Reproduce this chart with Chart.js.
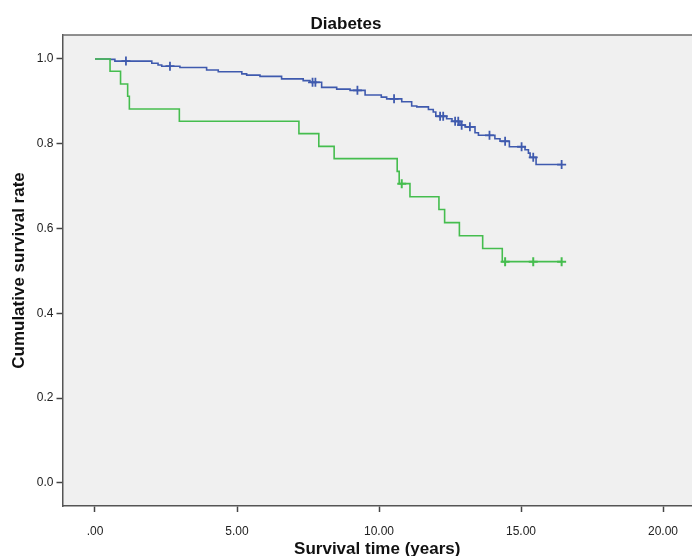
<!DOCTYPE html>
<html>
<head>
<meta charset="utf-8">
<title>Diabetes</title>
<script src="https://cdn.jsdelivr.net/npm/chart.js@4.4.1/dist/chart.umd.min.js"></script>
<style>
  html, body { margin: 0; padding: 0; background: #fff; }
  #wrap { width: 692px; height: 556px; }
</style>
</head>
<body>
<div id="wrap"><canvas id="myChart" width="692" height="556"></canvas></div>
<script>
/* global Chart */

// Kaplan-Meier steps: time (years) where the curve drops and survival after the drop
let greenTimes = [0, 0.53, 0.90, 1.15, 1.21, 2.97, 7.18, 7.88, 8.42, 10.64, 10.71, 11.09, 12.11, 12.31, 12.83, 13.65, 14.34, 16.43];
let greenSurv = [1.0, 0.971, 0.941, 0.912, 0.882, 0.853, 0.824, 0.794, 0.765, 0.735, 0.706, 0.675, 0.645, 0.614, 0.583, 0.553, 0.522, 0.522];
let greenCensorTimes = [10.80, 14.44, 15.43, 16.43];
let greenCensorSurv = [0.706, 0.522, 0.522, 0.522];

let blueTimes = [0, 0.53, 0.70, 2.00, 2.22, 2.35, 2.99, 3.93, 4.34, 5.17, 5.34, 5.81, 6.57, 7.33, 7.57, 7.98, 8.51, 8.98, 9.51, 10.08, 10.27, 10.80, 11.15, 11.33, 11.74, 11.91, 12.00, 12.38, 12.57, 12.85, 13.03, 13.38, 13.50, 14.08, 14.26, 14.59, 15.14, 15.26, 15.32, 15.53, 16.43];
let blueSurv = [1.0, 0.999, 0.995, 0.990, 0.986, 0.983, 0.980, 0.974, 0.970, 0.965, 0.962, 0.959, 0.953, 0.949, 0.945, 0.933, 0.929, 0.926, 0.915, 0.910, 0.906, 0.899, 0.889, 0.887, 0.881, 0.875, 0.865, 0.859, 0.853, 0.844, 0.840, 0.826, 0.820, 0.812, 0.806, 0.793, 0.786, 0.778, 0.768, 0.751, 0.751];
let blueCensorTimes = [1.09, 2.64, 7.66, 7.76, 9.24, 10.53, 12.15, 12.26, 12.68, 12.79, 12.91, 13.20, 13.89, 14.44, 15.02, 15.43, 16.43];
let blueCensorSurv = [0.995, 0.983, 0.945, 0.945, 0.926, 0.906, 0.865, 0.865, 0.853, 0.853, 0.844, 0.840, 0.820, 0.806, 0.793, 0.768, 0.751];

let xTicks = [0, 5, 10, 15, 20];
let xTickLabels = ['.00', '5.00', '10.00', '15.00', '20.00'];
let yTicks = [0, 0.2, 0.4, 0.6, 0.8, 1.0];
let yTickLabels = ['0.0', '0.2', '0.4', '0.6', '0.8', '1.0'];

let chartTitle = 'Diabetes';
let xTitle = 'Survival time (years)';
let yTitle = 'Cumulative survival rate';

let GREEN = '#45bd4e';
let BLUE = '#3f5aae';

function toPoints(xs, ys) {
  return xs.map(function (x, i) { return { x: x, y: ys[i] }; });
}

// grey plot background, top frame line and the hand-placed titles
let framePlugin = {
  id: 'frame',
  beforeDraw: function (chart) {
    let a = chart.chartArea;
    let ctx = chart.ctx;
    ctx.save();
    ctx.fillStyle = '#f0f0f0';
    ctx.fillRect(a.left, a.top, a.right - a.left, a.bottom - a.top);
    ctx.restore();
  },
  afterDraw: function (chart) {
    let a = chart.chartArea;
    let ctx = chart.ctx;
    ctx.save();
    ctx.strokeStyle = '#6b6b6b';
    ctx.lineWidth = 1.5;
    ctx.beginPath();
    ctx.moveTo(a.left, a.top);
    ctx.lineTo(a.right, a.top);
    ctx.stroke();

    ctx.fillStyle = '#111';
    ctx.font = 'bold 17px "Liberation Sans", Arial, sans-serif';
    ctx.textAlign = 'center';
    ctx.textBaseline = 'alphabetic';
    ctx.fillText(chartTitle, chart.width / 2, 29);
    ctx.fillText(xTitle, (a.left + a.right) / 2, 554);

    ctx.translate(24, (a.top + a.bottom) / 2);
    ctx.rotate(-Math.PI / 2);
    ctx.fillText(yTitle, 0, 0);
    ctx.restore();
  }
};

var ctx = document.getElementById('myChart').getContext('2d');
var myChart = new Chart(ctx, {
  type: 'scatter',
  data: {
    datasets: [
      {
        label: 'Yes censored',
        data: toPoints(greenCensorTimes, greenCensorSurv),
        showLine: false,
        pointStyle: 'cross',
        pointRadius: 4.5,
        borderColor: GREEN,
        borderWidth: 2
      },
      {
        label: 'Yes',
        data: toPoints(greenTimes, greenSurv),
        showLine: true,
        stepped: 'before',
        borderColor: GREEN,
        borderWidth: 1.6,
        pointRadius: 0
      },
      {
        label: 'No censored',
        data: toPoints(blueCensorTimes, blueCensorSurv),
        showLine: false,
        pointStyle: 'cross',
        pointRadius: 4.5,
        borderColor: BLUE,
        borderWidth: 1.8
      },
      {
        label: 'No',
        data: toPoints(blueTimes, blueSurv),
        showLine: true,
        stepped: 'before',
        borderColor: BLUE,
        borderWidth: 1.6,
        pointRadius: 0
      }
    ]
  },
  options: {
    responsive: false,
    animation: false,
    layout: { autoPadding: false, padding: { top: 35, right: 0, bottom: 0, left: 0 } },
    plugins: {
      legend: { display: false },
      title: { display: false },
      tooltip: { enabled: false }
    },
    scales: {
      x: {
        type: 'linear',
        min: -1.144,
        max: 21.02,
        afterFit: function (scale) { scale.height = 50; scale.paddingLeft = 0; scale.paddingRight = 0; },
        afterBuildTicks: function (scale) {
          scale.ticks = xTicks.map(function (v) { return { value: v }; });
        },
        ticks: {
          autoSkip: false,
          maxRotation: 0,
          padding: 12,
          color: '#222',
          font: { family: '"Liberation Sans", Arial, sans-serif', size: 12 },
          callback: function (value) { return xTickLabels[xTicks.indexOf(value)]; }
        },
        grid: {
          drawOnChartArea: false,
          drawTicks: true,
          tickLength: 6,
          tickWidth: 1.5,
          color: '#444'
        },
        border: { display: true, color: '#555', width: 1.5 }
      },
      y: {
        type: 'linear',
        min: -0.0543,
        max: 1.0566,
        afterFit: function (scale) { scale.width = 62.5; },
        afterBuildTicks: function (scale) {
          scale.ticks = yTicks.map(function (v) { return { value: v }; });
        },
        ticks: {
          padding: 3,
          color: '#222',
          font: { family: '"Liberation Sans", Arial, sans-serif', size: 12 },
          callback: function (value) { return yTickLabels[yTicks.indexOf(value)]; }
        },
        grid: {
          drawOnChartArea: false,
          drawTicks: true,
          tickLength: 6,
          tickWidth: 1.5,
          color: '#444'
        },
        border: { display: true, color: '#555', width: 1.5 }
      }
    }
  },
  plugins: [framePlugin]
});
</script>
</body>
</html>
